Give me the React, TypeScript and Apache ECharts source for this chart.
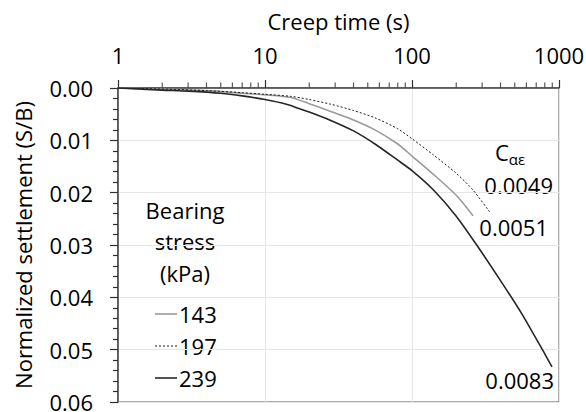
import React, { useEffect, useRef } from "react";
import * as echarts from "echarts";

const xTickLabels = ["1", "10", "100", "1000"];
const minorTimes = [2, 3, 4, 5, 6, 7, 8, 9, 20, 30, 40, 50, 60, 70, 80, 90, 200, 300, 400, 500, 600, 700, 800, 900];

const t143 = [1, 2, 4, 7, 10, 15, 20, 28, 40, 56, 80, 100, 140, 200, 260];
const s143 = [0, 0.0002, 0.0005, 0.001, 0.0013, 0.0018, 0.003, 0.0045, 0.0061, 0.008, 0.0107, 0.013, 0.0165, 0.0205, 0.0244];

const t197 = [1, 2, 4, 7, 10, 15, 20, 28, 40, 56, 80, 100, 140, 200, 260, 340];
const s197 = [0, 0.0002, 0.0005, 0.0009, 0.0012, 0.0016, 0.0022, 0.0031, 0.0043, 0.0057, 0.0078, 0.0097, 0.0128, 0.0163, 0.0195, 0.0238];

const t239 = [1, 2, 3, 5, 7, 10, 14, 17, 20, 28, 40, 56, 80, 100, 140, 200, 280, 400, 560, 800, 896];
const s239 = [0, 0.0004, 0.0006, 0.001, 0.0015, 0.0022, 0.0031, 0.0039, 0.0046, 0.0062, 0.0082, 0.0107, 0.0138, 0.0158, 0.0195, 0.0245, 0.0303, 0.0368, 0.0432, 0.0508, 0.0533];

const slopes = ["0.0049", "0.0051", "0.0083"];
const legendNames = ["143", "197", "239"];

const FONT = "Open Sans";
const AXIS = "#404040";

function zip(t: number[], s: number[]) {
  return t.map((v, i) => [v, s[i]]);
}

export default function App() {
  const ref = useRef<HTMLDivElement>(null);
  useEffect(() => {
    if (!ref.current) return;
    const chart = echarts.init(ref.current, undefined, { renderer: "svg" });
    const txt = { fontFamily: FONT, fontSize: 22, fill: "#000" };
    chart.setOption({
      animation: false,
      backgroundColor: "#fff",
      grid: {
        left: 118,
        right: 27,
        top: 88,
        bottom: 10,
        containLabel: false,
        outerBoundsMode: "none",
        show: true,
        borderColor: "#595959",
        borderWidth: 1,
      },
      xAxis: {
        type: "log",
        logBase: 10,
        min: 1,
        max: 1000,
        position: "top",
        name: "Creep time (s)",
        nameLocation: "middle",
        nameGap: 55,
        nameTextStyle: { fontFamily: FONT, fontSize: 22, color: "#000", lineHeight: 24 },
        axisLine: { show: true, lineStyle: { color: AXIS, width: 1.5 } },
        axisTick: { show: true, length: 8, lineStyle: { color: "#303030", width: 1.2 } },
        axisLabel: {
          fontFamily: FONT,
          fontSize: 22,
          color: "#000",
          margin: 22,
          showMaxLabel: true,
          showMinLabel: true,
          formatter: (v: number) => {
            const i = Math.round(Math.log10(v));
            return xTickLabels[i] ?? "";
          },
        },
        splitLine: { show: true, lineStyle: { color: "#e6e6e6" } },
        minorTick: { show: false },
      },
      yAxis: {
        type: "value",
        inverse: true,
        min: 0,
        max: 0.06,
        interval: 0.01,
        name: "Normalized settlement (S/B)",
        nameLocation: "middle",
        nameGap: 84,
        nameTextStyle: { fontFamily: FONT, fontSize: 22, color: "#000" },
        axisLine: { show: true, lineStyle: { color: AXIS, width: 1.5 } },
        axisTick: { show: true, length: 8, lineStyle: { color: "#303030", width: 1.2 } },
        minorTick: { show: true, splitNumber: 5, length: 5, lineStyle: { color: "#303030", width: 1.2 } },
        axisLabel: {
          fontFamily: FONT,
          fontSize: 22,
          lineHeight: 18,
          color: "#000",
          margin: 25,
          formatter: (v: number) => v.toFixed(2),
        },
        splitLine: { show: true, lineStyle: { color: "#e6e6e6" } },
      },
      series: [
        {
          type: "scatter",
          data: minorTimes.map((t) => [t, 0]),
          symbol: "rect",
          symbolSize: [1.2, 5],
          symbolOffset: [0, -3],
          itemStyle: { color: "#303030" },
          clip: false,
          silent: true,
          z: 5,
        },
        {
          name: "143",
          type: "line",
          data: zip(t143, s143),
          showSymbol: false,
          smooth: 0.25,
          lineStyle: { color: "#9a9a9a", width: 1.6 },
        },
        {
          name: "197",
          type: "line",
          data: zip(t197, s197),
          showSymbol: false,
          smooth: 0.25,
          lineStyle: { color: "#1a1a1a", width: 1, type: [2, 2] },
        },
        {
          name: "239",
          type: "line",
          data: zip(t239, s239),
          showSymbol: false,
          smooth: 0.25,
          lineStyle: { color: "#262626", width: 1.6 },
        },
      ],
      graphic: [
        {
          type: "text",
          left: 495,
          top: 141,
          style: {
            text: "{c|C}{s|αε}",
            rich: {
              c: { fontFamily: FONT, fontSize: 22, fill: "#000" },
              s: { fontFamily: FONT, fontSize: 15, fill: "#000", verticalAlign: "bottom", padding: [14, 0, 0, 0] },
            },
          },
        },
        { type: "text", x: 553, y: 185, style: { ...txt, text: slopes[0], textAlign: "right", textVerticalAlign: "middle" } },
        { type: "text", x: 548, y: 227, style: { ...txt, text: slopes[1], textAlign: "right", textVerticalAlign: "middle" } },
        { type: "text", x: 554, y: 380, style: { ...txt, text: slopes[2], textAlign: "right", textVerticalAlign: "middle" } },
        { type: "text", x: 185, y: 210, style: { ...txt, text: "Bearing", textAlign: "center", textVerticalAlign: "middle" } },
        { type: "text", x: 185, y: 241, style: { ...txt, text: "stress", textAlign: "center", textVerticalAlign: "middle" } },
        { type: "text", x: 185, y: 273, style: { ...txt, text: "(kPa)", textAlign: "center", textVerticalAlign: "middle" } },
        { type: "line", shape: { x1: 155, y1: 314, x2: 177, y2: 314 }, style: { stroke: "#9a9a9a", lineWidth: 1.6 } },
        { type: "line", shape: { x1: 155, y1: 346, x2: 177, y2: 346 }, style: { stroke: "#1a1a1a", lineWidth: 1, lineDash: [2, 2] } },
        { type: "line", shape: { x1: 155, y1: 378, x2: 177, y2: 378 }, style: { stroke: "#262626", lineWidth: 1.6 } },
        { type: "text", x: 179, y: 314, style: { ...txt, text: legendNames[0], textAlign: "left", textVerticalAlign: "middle" } },
        { type: "text", x: 179, y: 346, style: { ...txt, text: legendNames[1], textAlign: "left", textVerticalAlign: "middle" } },
        { type: "text", x: 179, y: 378, style: { ...txt, text: legendNames[2], textAlign: "left", textVerticalAlign: "middle" } },
      ],
    });
    return () => chart.dispose();
  }, []);
  return <div ref={ref} style={{ width: 586, height: 412, position: "fixed", left: 0, top: 0 }} />;
}
